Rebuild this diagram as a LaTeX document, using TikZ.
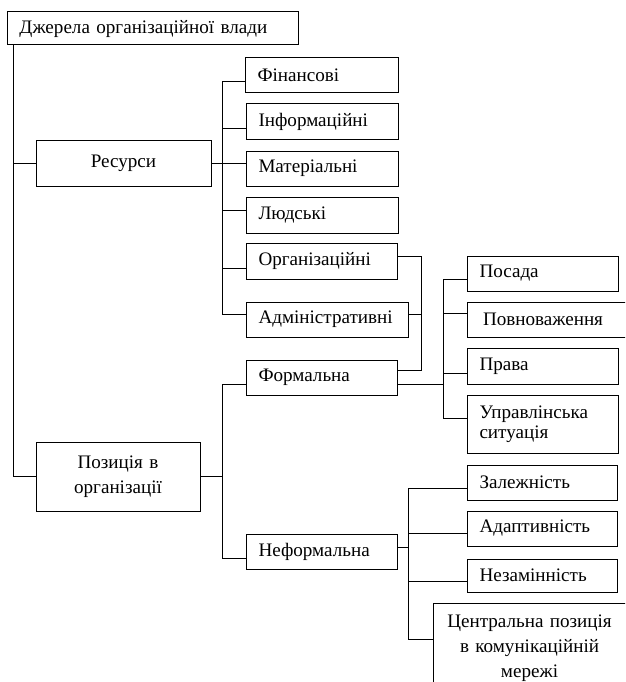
\documentclass[tikz,border=0pt]{standalone}
\usepackage{fontspec}
\setmainfont{Liberation Serif}
\begin{document}
\begin{tikzpicture}[x=1pt,y=-1pt,
  font=\fontsize{19.1}{22}\selectfont,
  conn/.style={line width=1pt},
  boxbase/.style={draw, line width=1pt, rectangle, inner ysep=0pt},
  lbox/.style={boxbase, inner xsep=12.5pt, align=left},
  cbox/.style={boxbase, inner xsep=5pt, align=center}]
\useasboundingbox (0,0) rectangle (625,682);
\clip (0,0) rectangle (625,682);

\node[lbox, text width=266pt, minimum height=33pt] (root) at (152.5,28.5) {Джерела організаційної влади};
\node[cbox, text width=165pt, minimum height=46pt] (res) at (123.5,163) {Ресурси};
\node[lbox, text width=128pt, minimum height=35pt] (fin) at (321.5,75.5) {Фінансові};
\node[lbox, text width=127pt, minimum height=35pt] (inf) at (322,121.5) {Інформаційні};
\node[lbox, text width=127pt, minimum height=35pt] (mat) at (322,168.5) {Матеріальні};
\node[lbox, text width=127pt, minimum height=36pt] (lud) at (322,215) {Людські};
\node[lbox, text width=126pt, minimum height=36pt] (org) at (321.5,261) {Організаційні};
\node[lbox, text width=137pt, minimum height=35pt] (adm) at (327,319.5) {Адміністративні};
\node[lbox, text width=126pt, minimum height=35pt] (form) at (321.5,377.5) {Формальна};
\node[cbox, text width=154pt, minimum height=69pt] (poz) at (118,476.5) {Позиція в\\[3pt]організації};
\node[lbox, text width=126pt, minimum height=35pt] (nef) at (321.5,551.5) {Неформальна};
\node[lbox, text width=126pt, minimum height=35pt] (pos) at (542.5,273.5) {Посада};
\node[boxbase, inner xsep=16pt, align=left, text width=128pt, minimum height=35pt] (povn) at (547,319.5) {Повноваження};
\node[lbox, text width=126pt, minimum height=36pt] (prava) at (542.5,366) {Права};
\node[lbox, text width=126pt, minimum height=58pt] (upr) at (542.5,424) {Управлінська\\[-2pt]ситуація};
\node[lbox, text width=125pt, minimum height=35pt] (zal) at (542,482.5) {Залежність};
\node[lbox, text width=125pt, minimum height=35pt] (adap) at (542,528.5) {Адаптивність};
\node[lbox, text width=125pt, minimum height=33pt] (nez) at (542,575.5) {Незамінність};
\node[cbox, text width=183pt, minimum height=90pt] (cen) at (529.5,648) {Центральна позиція\\[3pt]в комунікаційній\\[3pt]мережі};

% root trunk
\draw[conn] ([xshift=7pt]root.south west) |- (res.west);
\draw[conn] ([xshift=7pt]root.south west) |- (poz.west);

% resources
\draw[conn] (res.east) -- ++(10.5,0) coordinate (rj);
\foreach \n/\s in {fin/-6.5, inf/-6.5, mat/5.5, lud/5, org/-7, adm/5.5}
  \draw[conn] (rj) |- ([yshift=\s pt]\n.west);

% organisational / administrative to formal
\draw[conn] ([yshift=5pt]org.east) -- ++(24,0) coordinate (oj) |- ([yshift=7.5pt]form.east);
\draw[conn] ([yshift=5.5pt]adm.east) -- ++(13,0);

% position
\draw[conn] ([yshift=-6.5pt]form.west) -- ++(-23,0) coordinate (fj) |- ([yshift=-6.5pt]nef.west);
\draw[conn] (poz.east) -- (poz.east -| fj);

% formal children
\draw[conn] ([yshift=-6.5pt]form.east) -- ++(46,0) coordinate (fr);
\foreach \n/\s in {pos/-5.5, povn/6.5, prava/-7, upr/6}
  \draw[conn] (fr) |- ([yshift=\s pt]\n.west);

% informal children
\draw[conn] ([yshift=4.5pt]nef.east) -- ++(11,0) coordinate (nj);
\foreach \n/\s in {zal/-5.5, adap/-4.5, nez/-5.5, cen/9}
  \draw[conn] (nj) |- ([yshift=\s pt]\n.west);
\end{tikzpicture}
\end{document}
